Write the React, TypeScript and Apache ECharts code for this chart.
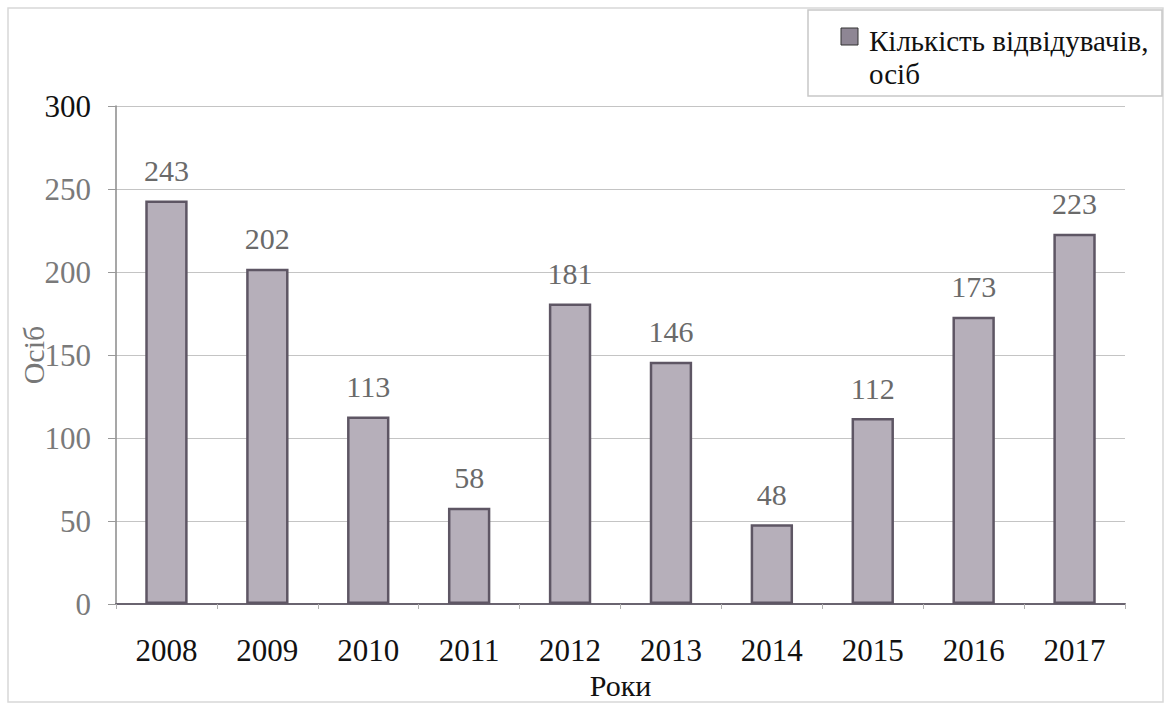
import React, { useEffect, useRef } from "react";
import * as echarts from "echarts";

const years = ["2008", "2009", "2010", "2011", "2012", "2013", "2014", "2015", "2016", "2017"];
const visitors = [243, 202, 113, 58, 181, 146, 48, 112, 173, 223];
const yTicks = [0, 50, 100, 150, 200, 250, 300];
const seriesName = "Кількість відвідувачів,\nосіб";

const FONT = "'Liberation Serif', 'Times New Roman', serif";

export default function App() {
  const ref = useRef<HTMLDivElement>(null);
  useEffect(() => {
    if (!ref.current) return;
    const chart = echarts.init(ref.current, undefined, { renderer: "svg" });
    chart.setOption({
      animation: false,
      backgroundColor: "#ffffff",
      textStyle: { fontFamily: FONT },
      graphic: [
        {
          type: "rect",
          shape: { x: 8, y: 8, width: 1155, height: 694 },
          style: { fill: "none", stroke: "#d8d8d8", lineWidth: 1.5 },
          silent: true,
        },
        {
          type: "rect",
          shape: { x: 808, y: 10, width: 354, height: 86 },
          style: { fill: "#ffffff", stroke: "#c8c8c8", lineWidth: 1.5 },
          silent: true,
          z: 0,
        },
        {
          type: "rect",
          shape: { x: 841, y: 28, width: 17, height: 17 },
          style: { fill: "#8e8694", stroke: "#333", lineWidth: 1 },
          silent: true,
          z: 10,
        },
      ],
      legend: {
        show: true,
        left: 841,
        top: 19,
        itemWidth: 17,
        itemHeight: 17,
        itemGap: 9,
        icon: "rect",
        textStyle: {
          fontFamily: FONT,
          fontSize: 29,
          color: "#111111",
          lineHeight: 33,
        },
        data: [{ name: seriesName, itemStyle: { opacity: 0 } }],
        z: 5,
      },
      grid: { left: 116, right: 44, top: 106, bottom: 104, containLabel: false, outerBoundsMode: "none" },
      xAxis: {
        type: "category",
        data: years,
        name: "Роки",
        nameLocation: "middle",
        nameGap: 66,
        nameMoveOverlap: false,
        nameTextStyle: { fontFamily: FONT, fontSize: 30, color: "#111" },
        axisLine: { show: true, lineStyle: { color: "#6a6470", width: 2 } },
        axisTick: { show: true, alignWithLabel: false, length: 5, lineStyle: { color: "#b0b0b0" } },
        axisLabel: {
          fontFamily: FONT,
          fontSize: 31,
          color: "#111",
          margin: 31,
        },
      },
      yAxis: {
        type: "value",
        min: 0,
        max: 300,
        interval: 50,
        name: "Осіб",
        nameLocation: "middle",
        nameGap: 68,
        nameMoveOverlap: false,
        nameRotate: 90,
        nameTextStyle: { fontFamily: FONT, fontSize: 30, color: "#777" },
        axisLine: { show: true, lineStyle: { color: "#8a8a8a", width: 1.5 } },
        axisTick: { show: true, length: 8, lineStyle: { color: "#999" } },
        splitLine: { show: true, lineStyle: { color: "#c4c4c4", width: 1 } },
        axisLabel: {
          fontFamily: FONT,
          fontSize: 31,
          margin: 25,
          formatter: (v: number) => (yTicks.includes(v) ? String(v) : ""),
          color: (v: any) => (Number(v) === 300 ? "#111" : "#7a7a7a"),
        },
      },
      series: [
        {
          name: seriesName,
          type: "bar",
          data: visitors,
          barWidth: "42%",
          itemStyle: {
            color: "#b6afba",
            borderColor: "#5e5664",
            borderWidth: 2.5,
          },
          label: {
            show: true,
            position: "top",
            distance: 15,
            fontFamily: FONT,
            fontSize: 30,
            color: "#6a6a6a",
          },
        },
      ],
    });
    return () => chart.dispose();
  }, []);
  return (
    <div
      ref={ref}
      style={{ position: "absolute", left: 0, top: 0, width: 1169, height: 708 }}
    />
  );
}
